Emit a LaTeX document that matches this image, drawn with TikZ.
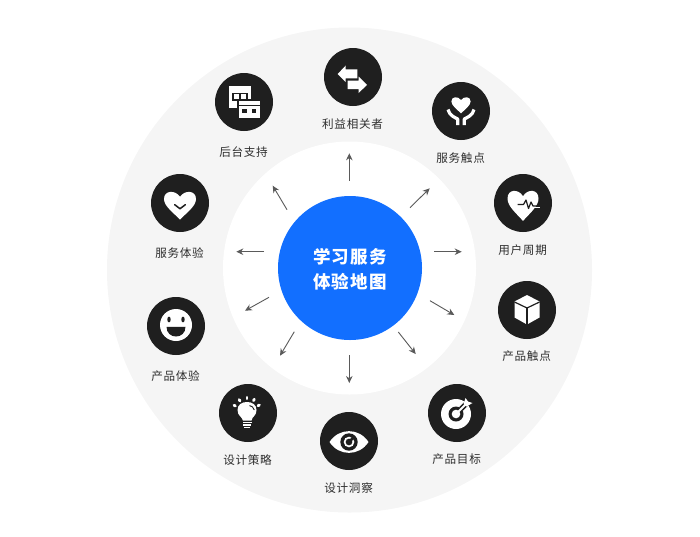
\documentclass[tikz,border=0pt]{standalone}
\usepackage{fontspec}
\setmainfont{Noto Sans CJK SC}[LetterSpace=6]
\usetikzlibrary{arrows.meta}
\definecolor{bgring}{HTML}{F5F5F5}
\definecolor{darkdisc}{HTML}{1F1F1F}
\definecolor{coreblue}{HTML}{126FFF}
\definecolor{labeltext}{HTML}{2E2E2E}
\definecolor{arrowgrey}{HTML}{5A5A5A}
\newcommand{\heartpath}{(0,1) .. controls (-0.45,0.55) and (-1,0.15) .. (-1,-0.28) .. controls (-1,-0.85) and (-0.28,-0.85) .. (0,-0.42) .. controls (0.28,-0.85) and (1,-0.85) .. (1,-0.28) .. controls (1,0.15) and (0.45,0.55) .. (0,1) -- cycle}
\tikzset{
  disc/.style={circle,fill=darkdisc,draw=none,minimum size=58pt,inner sep=0pt},
  lab/.style={text=labeltext,font=\fontsize{11.6}{13}\selectfont,inner sep=0pt,xshift=-0.4pt,yshift=0.4pt},
  spoke/.style={draw=arrowgrey,line width=0.9pt,-{Stealth[length=7pt,width=6.5pt]}},
  ink/.style={fill=white,draw=none},
  cutline/.style={draw=darkdisc,line cap=round,line join=round},
  whiteline/.style={draw=white,line cap=round,line join=round}
}
\begin{document}
\begin{tikzpicture}[x=1pt,y=-1pt]
\useasboundingbox (0,0) rectangle (700,536);
\fill[bgring] (349.5,270) circle[radius=242.5pt];
\fill[white] (349.5,268) circle[radius=126.5pt];
\node[circle,fill=coreblue,minimum size=144pt,inner sep=0pt] (core) at (350,268) {};
\node[text=white,align=center,inner sep=0pt,font=\bfseries\fontsize{17.5}{25}\selectfont] (coretext) at (350,269.2) {学习服务\\体验地图};

% discs
\node[disc] (a) at (353,77) {};
\node[disc] (b) at (461,111) {};
\node[disc] (c) at (523,203) {};
\node[disc] (d) at (527,310) {};
\node[disc] (e) at (457,413) {};
\node[disc] (f) at (349,441) {};
\node[disc] (g) at (248,413) {};
\node[disc] (h) at (176,326) {};
\node[disc] (i) at (180,203) {};
\node[disc] (j) at (244,102) {};

% labels
\node[lab] (la) at (353,124) {利益相关者};
\node[lab] (lb) at (461,158) {服务触点};
\node[lab] (lc) at (523,250) {用户周期};
\node[lab] (ld) at (527,357) {产品触点};
\node[lab] (le) at (457,460) {产品目标};
\node[lab] (lf) at (349,488) {设计洞察};
\node[lab] (lg) at (248,460) {设计策略};
\node[lab] (lh) at (176,376) {产品体验};
\node[lab] (li) at (180,253) {服务体验};
\node[lab] (lj) at (244,152) {后台支持};

% spokes
\coordinate (s1) at (349.3,180.7); \coordinate (t1) at (349.3,153.3);
\coordinate (s2) at (410,207.7);   \coordinate (t2) at (429.7,188.3);
\coordinate (s3) at (434,251.7);   \coordinate (t3) at (461.7,251.7);
\coordinate (s4) at (430,300.7);   \coordinate (t4) at (454.3,315);
\coordinate (s5) at (398.3,332);   \coordinate (t5) at (415.7,354);
\coordinate (s6) at (349.3,355);   \coordinate (t6) at (349.3,383);
\coordinate (s7) at (294.3,331.7); \coordinate (t7) at (280,355.7);
\coordinate (s8) at (269,297.3);   \coordinate (t8) at (245,310.7);
\coordinate (s9) at (264,251.7);   \coordinate (t9) at (236.3,251.7);
\coordinate (s10) at (287,209.7);  \coordinate (t10) at (272.7,185.7);
\foreach \k in {1,...,10} \draw[spoke] (s\k) -- (t\k);

% icon a: swap arrows
\begin{scope}[shift={(a.center)}]
  \fill[ink] (-15.3,-3) -- (-7.3,-11.5) -- (-7.3,-7.7) -- (4.3,-7.7) -- (4.3,1.3) -- (-7.3,1.3) -- (-7.3,5) -- cycle;
  \fill[ink] (14,8) -- (5.5,-0.5) -- (5.5,3.7) -- (-5.3,3.7) -- (-5.3,12) -- (5.5,12) -- (5.5,16) -- cycle;
\end{scope}

% icon b: hands and heart
\begin{scope}[shift={(b.center)}]
  \fill[ink,shift={(0,-7)},xscale=9.6,yscale=9.3] \heartpath;
  \draw[whiteline,line width=3.2pt,line cap=butt] (-13,-1.5) .. controls (-11.5,4.5) and (-7,6) .. (-3.3,8) -- (-3.3,14);
  \draw[whiteline,line width=3.2pt,line cap=butt] (13,-1.5) .. controls (11.5,4.5) and (7,6) .. (3.3,8) -- (3.3,14);
\end{scope}

% icon c: heart with pulse
\begin{scope}[shift={(c.center)}]
  \fill[ink,shift={(0,0.5)},xscale=15.5,yscale=17.4] \heartpath;
  \draw[cutline,line width=1.2pt,line cap=butt] (-5.5,1.5) -- (0.5,1.5) -- (3,-3) -- (5.5,5.5) -- (8,-1) -- (10,3) -- (14.5,3);
  \draw[draw=white,line width=1.4pt] (10,4.6) -- (17,4.6);
\end{scope}

% icon d: box
\begin{scope}[shift={(d.center)}]
  \fill[ink] (0,-15) -- (12.5,-8.5) -- (12.5,7.5) -- (0,14.5) -- (-12.5,7.5) -- (-12.5,-8.5) -- cycle;
  \draw[cutline,line width=1.2pt,line cap=butt] (-12.5,-8) -- (0,-2) -- (12.5,-8);
  \draw[cutline,line width=1.2pt,line cap=butt] (0,-2) -- (0,14.5);
\end{scope}

% icon e: target
\begin{scope}[shift={(e.center)}]
  \fill[ink] (-1,1) circle[radius=15pt];
  \fill[darkdisc] (-1,1) circle[radius=7.5pt];
  \fill[ink] (-1,1) circle[radius=4.3pt];
  \draw[draw=darkdisc,line width=5pt] (4,-4) -- (13,-13);
  \draw[draw=white,line width=2pt] (-1,1) -- (9,-9);
  \fill[ink] (6.5,-9) -- (8.5,-15) -- (11,-11.5) -- (15.5,-10) -- (9.5,-6.5) -- cycle;
\end{scope}

% icon f: eye
\begin{scope}[shift={(f.center)}]
  \fill[ink] (-19.5,1) .. controls (-10,-13.5) and (10,-13.5) .. (19.5,1) .. controls (10,15.5) and (-10,15.5) .. (-19.5,1) -- cycle;
  \fill[darkdisc] (0,1) circle[radius=8.7pt];
  \draw[draw=white,line width=1.7pt] (0,1) circle[radius=4.4pt];
  \draw[draw=darkdisc,line width=2.6pt] (0,1) -- (4.5,-3.5);
\end{scope}

% icon g: bulb
\begin{scope}[shift={(g.center)}]
  \fill[ink] (-5,7.5) .. controls (-6,3.5) and (-10.5,3) .. (-10.5,-3) .. controls (-10.5,-8.5) and (-6,-11) .. (-1,-11) .. controls (4,-11) and (8.5,-8.5) .. (8.5,-3) .. controls (8.5,3) and (4,3.5) .. (3.5,7.5) -- cycle;
  \fill[ink] (-5,8.6) rectangle (3.5,10.4);
  \fill[ink] (-4.6,11.3) rectangle (3.1,12.9);
  \fill[ink] (-3.6,13.7) rectangle (2.1,15.2);
  \draw[draw=darkdisc,line width=0.9pt] (1.5,-7.5) .. controls (4,-7) and (5.5,-5.5) .. (6.3,-3);
  \draw[whiteline,line width=2.8pt,line cap=round] (-14,-7.8) -- (-12.6,-7);
  \draw[whiteline,line width=2.8pt,line cap=round] (-8.8,-13.4) -- (-8,-12);
  \draw[whiteline,line width=2.8pt,line cap=round] (-1,-15.8) -- (-1,-14.2);
  \draw[whiteline,line width=2.8pt,line cap=round] (6.3,-13.8) -- (5.5,-12.4);
  \draw[whiteline,line width=2.8pt,line cap=round] (11.4,-8) -- (10,-7.2);
\end{scope}

% icon h: smiley
\begin{scope}[shift={(h.center)}]
  \fill[ink] (0,-1) circle[radius=16pt];
  \fill[darkdisc] (-7,-6.5) ellipse[x radius=1.7pt,y radius=2.9pt];
  \fill[darkdisc] (7,-6.5) ellipse[x radius=1.7pt,y radius=2.9pt];
  \fill[darkdisc] (-9.5,0.8) -- (9.5,0.8) .. controls (9.5,7) and (5,10.5) .. (0,10.5) .. controls (-5,10.5) and (-9.5,7) .. (-9.5,0.8) -- cycle;
\end{scope}

% icon i: heart with chevron
\begin{scope}[shift={(i.center)}]
  \fill[ink,shift={(0,0.5)},xscale=16,yscale=16] \heartpath;
  \draw[cutline,line width=1.5pt] (-5.3,1.7) -- (0,5.7) -- (5.3,1.7);
\end{scope}

% icon j: windows
\begin{scope}[shift={(j.center)}]
  \fill[ink] (-15,-16) rectangle (6.5,6);
  \fill[darkdisc] (-12,-9.5) rectangle (3.5,-1.5);
  \fill[ink] (-10.5,-8) rectangle (-5.5,-3);
  \fill[ink] (-3.5,-8) rectangle (1.5,-3);
  \fill[darkdisc] (-7,-3) rectangle (18,17.5);
  \fill[ink] (-5.3,-1) rectangle (16.3,15.8);
  \fill[darkdisc] (-5.3,2.7) rectangle (16.3,4);
  \fill[darkdisc] (-1.7,7.3) rectangle (3,11.3);
  \fill[darkdisc] (7.5,7.3) rectangle (12.2,11.3);
\end{scope}
\end{tikzpicture}
\end{document}
